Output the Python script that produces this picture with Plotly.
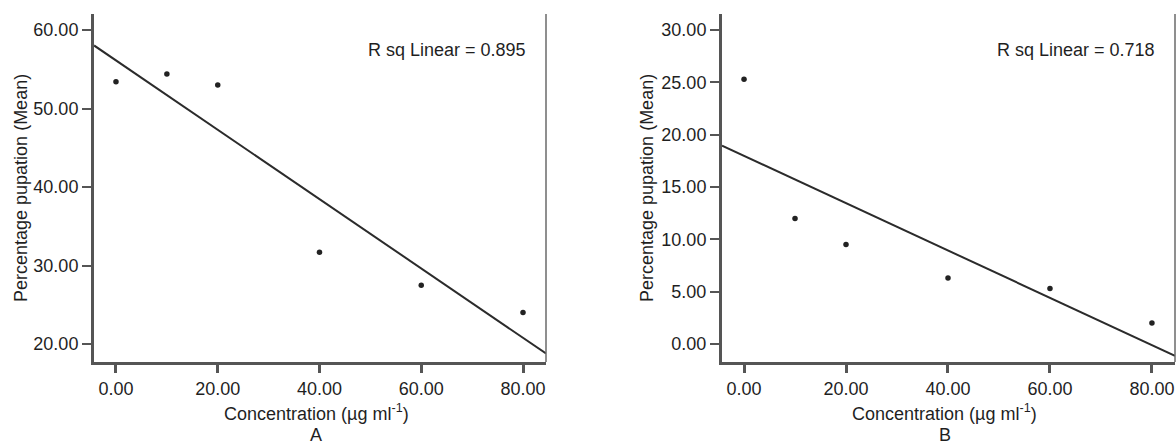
import numpy as np
import plotly.graph_objects as go

# Concentration levels (µg ml-1)
concentration = [0, 10, 20, 40, 60, 80]

# Mean percentage pupation per concentration
pupation_a = [53.4, 54.4, 53.0, 31.7, 27.5, 24.0]
pupation_b = [25.3, 12.0, 9.5, 6.3, 5.3, 2.0]

r2_labels = ["R sq Linear = 0.895", "R sq Linear = 0.718"]
panel_labels = ["A", "B"]

x_ticks = [0, 20, 40, 60, 80]
y_ticks_a = [20, 30, 40, 50, 60]
y_ticks_b = [0, 5, 10, 15, 20, 25, 30]

x_range = [-4.32, 84.52]
y_range_a = [17.71, 62.04]
y_range_b = [-1.72, 31.53]

FONT = "Liberation Sans, Arial, sans-serif"
FS = 18
TEXT = "#1f1f1f"
AXIS = "#555555"

W, H = 1176, 447
top_px, bottom_px = 14, 362
dom_y = [(H - bottom_px) / H, (H - top_px) / H]
dom_xa = [94 / W, 546 / W]
dom_xb = [722 / W, 1175 / W]

fig = go.Figure()


def add_panel(ys, xref, yref):
    slope, intercept = np.polyfit(concentration, ys, 1)
    fx = np.array(x_range)
    fig.add_trace(go.Scatter(
        x=fx, y=slope * fx + intercept, mode="lines",
        line=dict(color="#2b2b2b", width=2),
        xaxis=xref, yaxis=yref, showlegend=False, hoverinfo="skip"))
    fig.add_trace(go.Scatter(
        x=concentration, y=ys, mode="markers",
        marker=dict(color="#222222", size=5.5),
        xaxis=xref, yaxis=yref, showlegend=False))


add_panel(pupation_a, "x", "y")
add_panel(pupation_b, "x2", "y2")

xaxis_common = dict(
    range=x_range, tickvals=x_ticks, ticktext=[f"{v:.2f}" for v in x_ticks],
    showgrid=False, zeroline=False, showline=True, linecolor=AXIS, linewidth=3,
    ticks="outside", ticklen=8, tickwidth=3, tickcolor=AXIS,
    tickfont=dict(family=FONT, size=FS, color=TEXT), fixedrange=True)


def yaxis_common(rng, ticks):
    return dict(
        range=rng, tickvals=ticks, ticktext=[f"{v:.2f}" for v in ticks],
        showgrid=False, zeroline=False, showline=True, linecolor=AXIS, linewidth=3,
        ticks="outside", ticklen=9, tickwidth=2, tickcolor=AXIS,
        tickfont=dict(family=FONT, size=FS, color=TEXT), fixedrange=True)


fig.update_layout(
    width=W, height=H,
    margin=dict(l=0, r=0, t=0, b=0),
    paper_bgcolor="white", plot_bgcolor="white",
    xaxis=dict(domain=dom_xa, anchor="y", **xaxis_common),
    yaxis=dict(domain=dom_y, anchor="x", **yaxis_common(y_range_a, y_ticks_a)),
    xaxis2=dict(domain=dom_xb, anchor="y2", **xaxis_common),
    yaxis2=dict(domain=dom_y, anchor="x2", **yaxis_common(y_range_b, y_ticks_b)),
)

# Thin right-hand frame line on each panel
for xr, yr in [("x", "y"), ("x2", "y2")]:
    fig.add_shape(type="line", xref=f"{xr} domain", yref=f"{yr} domain",
                  x0=1, x1=1, y0=0, y1=1,
                  line=dict(color="#6a6a6a", width=1.5))

annotations = []
for i, (dom_x, xr) in enumerate([(dom_xa, "x"), (dom_xb, "x2")]):
    cx = (dom_x[0] + dom_x[1]) / 2
    annotations.append(dict(
        text=r2_labels[i], xref=f"{xr} domain", yref="paper",
        x=0.96, y=(H - 50) / H, xanchor="right", yanchor="middle",
        showarrow=False, font=dict(family=FONT, size=FS, color=TEXT)))
    annotations.append(dict(
        text="Concentration (µg ml<sup>-1</sup>)", xref="paper", yref="paper",
        x=cx - 4 / W, y=(H - 412) / H, xanchor="center", yanchor="middle",
        showarrow=False, font=dict(family=FONT, size=FS, color=TEXT)))
    annotations.append(dict(
        text=panel_labels[i], xref="paper", yref="paper",
        x=cx - 4 / W, y=0, xanchor="center", yanchor="bottom",
        showarrow=False, font=dict(family=FONT, size=FS, color=TEXT)))

for xpx in (21, 647):
    annotations.append(dict(
        text="Percentage pupation (Mean)", xref="paper", yref="paper",
        x=xpx / W, y=(dom_y[0] + dom_y[1]) / 2, xanchor="center", yanchor="middle",
        textangle=-90, showarrow=False,
        font=dict(family=FONT, size=FS, color=TEXT)))

fig.update_layout(annotations=annotations)

fig.write_html("out.html")
